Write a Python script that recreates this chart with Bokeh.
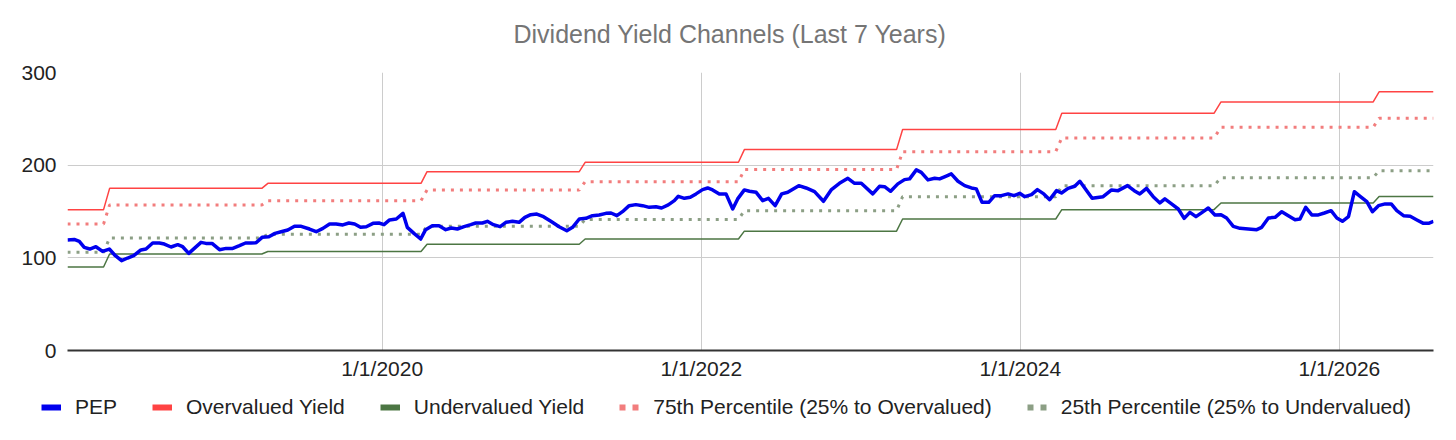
from bokeh.plotting import figure
from bokeh.models import Range1d, FixedTicker, Legend, LegendItem, Label
from bokeh.embed import file_html
from bokeh.resources import INLINE

TITLE = "Dividend Yield Channels (Last 7 Years)"

# dates as decimal years
dates = [
    2018.027, 2018.069, 2018.101, 2018.132, 2018.167, 2018.205, 2018.247, 2018.289, 2018.327, 2018.366,
    2018.404, 2018.442, 2018.487, 2018.519, 2018.561, 2018.603, 2018.634, 2018.676, 2018.718, 2018.749,
    2018.787, 2018.829, 2018.864, 2018.895, 2018.933, 2018.980, 2019.021, 2019.063, 2019.105, 2019.143,
    2019.178, 2019.209, 2019.247, 2019.289, 2019.328, 2019.366, 2019.408, 2019.450, 2019.492, 2019.544,
    2019.586, 2019.628, 2019.670, 2019.711, 2019.753, 2019.791, 2019.827, 2019.864, 2019.900, 2019.942,
    2019.979, 2020.011, 2020.046, 2020.088, 2020.130, 2020.157, 2020.199, 2020.241, 2020.272, 2020.314,
    2020.356, 2020.398, 2020.433, 2020.471, 2020.513, 2020.555, 2020.586, 2020.628, 2020.659, 2020.697,
    2020.739, 2020.775, 2020.816, 2020.858, 2020.894, 2020.931, 2020.969, 2021.011, 2021.057, 2021.109,
    2021.157, 2021.193, 2021.235, 2021.277, 2021.318, 2021.360, 2021.402, 2021.434, 2021.471, 2021.506,
    2021.548, 2021.590, 2021.632, 2021.674, 2021.716, 2021.751, 2021.793, 2021.831, 2021.856, 2021.894,
    2021.931, 2021.967, 2022.008, 2022.040, 2022.071, 2022.113, 2022.155, 2022.197, 2022.228, 2022.270,
    2022.302, 2022.344, 2022.385, 2022.421, 2022.463, 2022.504, 2022.542, 2022.611, 2022.657, 2022.710,
    2022.766, 2022.814, 2022.866, 2022.919, 2022.961, 2023.003, 2023.075, 2023.117, 2023.149, 2023.187,
    2023.232, 2023.274, 2023.306, 2023.348, 2023.379, 2023.421, 2023.463, 2023.494, 2023.532, 2023.567,
    2023.609, 2023.651, 2023.693, 2023.724, 2023.760, 2023.802, 2023.839, 2023.881, 2023.923, 2023.960,
    2023.996, 2024.028, 2024.070, 2024.107, 2024.147, 2024.184, 2024.227, 2024.258, 2024.299, 2024.341,
    2024.373, 2024.450, 2024.519, 2024.572, 2024.613, 2024.672, 2024.714, 2024.749, 2024.791, 2024.833,
    2024.875, 2024.906, 2024.948, 2024.990, 2025.027, 2025.063, 2025.101, 2025.140, 2025.178, 2025.220,
    2025.258, 2025.293, 2025.335, 2025.377, 2025.429, 2025.482, 2025.513, 2025.555, 2025.597, 2025.639,
    2025.680, 2025.722, 2025.753, 2025.789, 2025.827, 2025.868, 2025.906, 2025.948, 2025.984, 2026.019,
    2026.057, 2026.094, 2026.130, 2026.172, 2026.207, 2026.245, 2026.287, 2026.325, 2026.360, 2026.402,
    2026.444, 2026.486, 2026.527, 2026.559, 2026.590,
]

pep = [
    119.3, 119.9, 117.7, 111.3, 109.5, 112.0, 106.9, 109.5, 102.3, 96.9,
    99.8, 102.3, 108.5, 109.5, 116.0, 116.0, 114.9, 111.7, 114.2, 112.0,
    104.8, 111.3, 116.7, 115.6, 115.6, 108.8, 110.2, 110.2, 113.1, 116.0,
    116.0, 116.3, 122.1, 122.8, 126.4, 128.2, 130.1, 134.0, 134.0, 131.1,
    128.2, 131.8, 136.5, 136.5, 135.5, 137.6, 136.5, 132.9, 133.6, 137.2,
    137.6, 135.8, 140.9, 141.9, 148.0, 132.9, 126.4, 120.3, 130.4, 134.7,
    134.7, 130.4, 132.2, 131.1, 133.6, 135.8, 137.6, 137.6, 139.4, 135.8,
    133.6, 138.3, 139.4, 138.3, 143.7, 146.6, 147.3, 144.4, 139.4, 133.6,
    129.3, 132.9, 141.9, 142.6, 145.5, 146.3, 148.0, 148.4, 145.5, 149.8,
    156.3, 157.4, 156.3, 154.5, 155.2, 153.8, 157.1, 161.7, 166.4, 164.2,
    165.3, 169.0, 173.6, 175.4, 173.3, 169.0, 169.0, 152.7, 163.6, 173.3,
    171.8, 170.7, 161.7, 164.2, 156.3, 169.0, 170.7, 177.9, 175.4, 171.4,
    161.0, 173.3, 180.4, 185.8, 180.4, 180.4, 169.0, 177.2, 176.8, 171.8,
    179.8, 184.4, 185.2, 194.9, 192.3, 184.1, 185.8, 185.2, 188.0, 190.6,
    182.6, 177.9, 175.4, 174.4, 159.9, 159.9, 167.1, 167.1, 169.0, 167.1,
    169.6, 166.0, 168.2, 173.6, 169.0, 162.8, 172.5, 170.0, 175.0, 177.2,
    182.6, 164.2, 166.0, 173.3, 172.5, 177.9, 172.5, 169.0, 175.0, 166.0,
    159.2, 163.6, 158.2, 152.7, 142.6, 149.1, 144.4, 149.1, 153.8, 146.3,
    146.6, 143.0, 134.0, 131.8, 131.1, 130.4, 132.9, 143.0, 143.7, 149.8,
    145.5, 141.2, 141.9, 154.5, 146.3, 146.3, 148.4, 150.9, 143.0, 139.4,
    144.4, 171.4, 166.4, 160.6, 149.8, 156.3, 158.2, 158.2, 150.9, 145.5,
    144.8, 140.9, 137.2, 137.2, 139.4,
]

# level changes of the yield channels (ramp start / ramp end, decimal years)
step_start = [2018.253, 2019.245, 2020.243, 2021.235, 2022.233, 2023.224, 2024.222, 2025.214, 2026.212]
step_end = [2018.291, 2019.283, 2020.281, 2021.272, 2022.270, 2023.262, 2024.260, 2025.258, 2026.249]

over_yield = [152.0, 175.0, 180.4, 193.0, 203.1, 216.8, 238.4, 256.0, 268.3, 279.1]
pct75 = [136.5, 157.1, 161.7, 173.3, 182.2, 195.2, 214.6, 229.4, 240.9, 250.6]
pct25 = [105.9, 121.5, 125.5, 134.2, 141.5, 150.9, 166.0, 177.7, 186.5, 194.1]
under_yield = [90.1, 104.1, 106.9, 114.7, 120.3, 128.8, 141.9, 152.0, 159.2, 166.2]

x_ticks = [2020, 2022, 2024, 2026]
x_tick_labels = ["1/1/2020", "1/1/2022", "1/1/2024", "1/1/2026"]
y_ticks = [0, 100, 200, 300]

series_names = ["PEP", "Overvalued Yield", "Undervalued Yield",
                "75th Percentile (25% to Overvalued)", "25th Percentile (25% to Undervalued)"]

FONT = "Liberation Sans"
NAN = float("nan")

C_PEP = "#0000ee"
C_OVER = "#ff4343"
C_UNDER = "#4c7643"
C_P75 = "#f27d7d"
C_P25 = "#8c9f85"


def step_line(levels):
    xs = [dates[0]]
    ys = [levels[0]]
    for s, e, prev, new in zip(step_start, step_end, levels[:-1], levels[1:]):
        xs += [s, e]
        ys += [prev, new]
    xs.append(dates[-1])
    ys.append(levels[-1])
    return xs, ys


def strip(height):
    f = figure(width=1440, height=height, x_range=Range1d(0, 1), y_range=Range1d(0, 1),
               output_backend="svg", toolbar_location=None,
               min_border_left=0, min_border_right=0, min_border_top=0, min_border_bottom=0)
    f.axis.visible = False
    f.grid.visible = False
    f.outline_line_color = None
    f.background_fill_color = "white"
    f.border_fill_color = "white"
    return f


# title strip
pt = strip(50)
pt.add_layout(Label(x=513, y=17, x_units="screen", y_units="screen", text=TITLE,
                    text_font=FONT, text_font_size="25px", text_color="#757575",
                    text_align="left", text_baseline="alphabetic"))

# main chart
p = figure(width=1440, height=340,
           x_range=Range1d(dates[0], dates[-1]), y_range=Range1d(0, 300),
           output_backend="svg", toolbar_location=None,
           min_border_left=67, min_border_right=7, min_border_top=22, min_border_bottom=40)

p.outline_line_color = None
p.background_fill_color = "white"
p.border_fill_color = "white"

xax = p.xaxis[0]
xax.ticker = FixedTicker(ticks=x_ticks)
xax.major_label_overrides = {t: l for t, l in zip(x_ticks, x_tick_labels)}
xax.major_tick_line_color = None
xax.major_tick_out = 0
xax.major_tick_in = 0
xax.minor_tick_line_color = None
xax.axis_line_color = "#333333"
xax.axis_line_width = 2
xax.major_label_text_font = FONT
xax.major_label_text_font_size = "21px"
xax.major_label_text_color = "#222222"
xax.major_label_standoff = 6

yax = p.yaxis[0]
yax.ticker = FixedTicker(ticks=y_ticks)
yax.axis_line_color = None
yax.major_tick_line_color = None
yax.major_tick_out = 0
yax.major_tick_in = 0
yax.minor_tick_line_color = None
yax.major_label_text_font = FONT
yax.major_label_text_font_size = "21px"
yax.major_label_text_color = "#222222"
yax.major_label_standoff = 11

p.xgrid.ticker = FixedTicker(ticks=x_ticks)
p.ygrid.ticker = FixedTicker(ticks=y_ticks)
p.xgrid.grid_line_color = "#cccccc"
p.ygrid.grid_line_color = "#cccccc"

xs, ys = step_line(over_yield)
p.line(xs, ys, line_color=C_OVER, line_width=1.5)
xs, ys = step_line(under_yield)
p.line(xs, ys, line_color=C_UNDER, line_width=1.5)
xs, ys = step_line(pct75)
p.line(xs, ys, line_color=C_P75, line_width=3, line_dash="3 6")
xs, ys = step_line(pct25)
p.line(xs, ys, line_color=C_P25, line_width=3, line_dash="3 6")
p.line(dates, pep, line_color=C_PEP, line_width=3.5, line_join="round")

# legend strip
pl = strip(50)
l_pep = pl.line([NAN], [NAN], line_color=C_PEP, line_width=6)
l_over = pl.line([NAN], [NAN], line_color=C_OVER, line_width=6)
l_under = pl.line([NAN], [NAN], line_color=C_UNDER, line_width=6)
l_p75 = pl.line([NAN], [NAN], line_color=C_P75, line_width=6, line_dash="6 7")
l_p25 = pl.line([NAN], [NAN], line_color=C_P25, line_width=6, line_dash="6 7")

legend = Legend(items=[LegendItem(label=n, renderers=[r]) for n, r in
                       zip(series_names, [l_pep, l_over, l_under, l_p75, l_p25])],
                orientation="horizontal", location=(41, 21),
                glyph_width=20, glyph_height=20, label_standoff=14, spacing=35,
                padding=0, margin=0, border_line_color=None, background_fill_alpha=0,
                label_text_font=FONT, label_text_font_size="21px", label_text_color="#222222")
pl.add_layout(legend, "center")

open("out.html", "w").write(file_html([pt, p, pl], INLINE))
